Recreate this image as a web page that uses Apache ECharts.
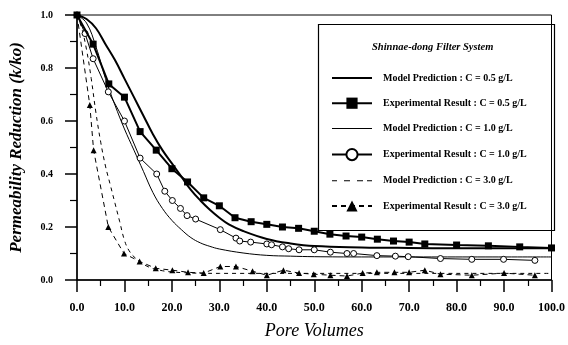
<!DOCTYPE html>
<html><head><meta charset="utf-8">
<script src="https://cdn.jsdelivr.net/npm/echarts@6/dist/echarts.min.js"></script>
<style>html,body{margin:0;padding:0;background:#fff}#c{width:568px;height:345px}</style>
</head><body><div id="c"></div><script>
// ---- data (x = pore volumes, y = k/ko) ----
const model05 = [[0,1.0],[2,0.985],[4,0.95],[6,0.89],[8,0.83],[10,0.76],[12,0.69],[14,0.62],[16,0.55],[18,0.49],[20,0.44],[22,0.39],[24,0.34],[26,0.30],[28,0.265],[30,0.235],[32,0.21],[35,0.185],[40,0.155],[45,0.138],[50,0.128],[60,0.123],[70,0.121],[80,0.12],[100,0.12]];
const exp05 = [[0,1.0],[3.4,0.89],[6.7,0.74],[10,0.69],[13.3,0.56],[16.7,0.49],[20,0.42],[23.3,0.37],[26.7,0.31],[30,0.28],[33.3,0.235],[36.7,0.22],[40,0.21],[43.3,0.20],[46.7,0.195],[50,0.184],[53.3,0.173],[56.7,0.166],[60,0.162],[63.3,0.154],[66.7,0.147],[70,0.143],[73.3,0.136],[80,0.132],[86.7,0.129],[93.3,0.125],[100,0.121]];
const model10 = [[0,1.0],[2,0.97],[4,0.88],[6,0.76],[8,0.66],[10,0.57],[12,0.49],[14,0.41],[16,0.33],[18,0.27],[20,0.225],[22,0.19],[24,0.16],[26,0.14],[28,0.127],[30,0.117],[35,0.102],[40,0.093],[45,0.09],[50,0.088],[60,0.087],[100,0.087]];
const exp10 = [[0,1.0],[1.7,0.93],[3.4,0.835],[6.6,0.71],[10,0.6],[13.3,0.46],[16.8,0.40],[18.5,0.335],[20.1,0.30],[21.8,0.27],[23.2,0.243],[25,0.23],[30.2,0.19],[33.5,0.158],[34.3,0.147],[36.6,0.143],[40,0.136],[41,0.133],[43.3,0.125],[44.6,0.118],[46.8,0.114],[50,0.114],[53.4,0.105],[56.9,0.1],[58.3,0.1],[63.2,0.092],[67.1,0.09],[69.8,0.088],[76.6,0.081],[83.2,0.078],[89.9,0.078],[96.5,0.074]];
const model30 = [[0,1.0],[1,0.95],[2,0.87],[3,0.76],[4,0.63],[5,0.52],[6,0.43],[7,0.36],[8,0.29],[9,0.22],[10,0.15],[11,0.11],[12.5,0.08],[15,0.05],[18,0.035],[22,0.028],[30,0.025],[100,0.025]];
const exp30 = [[0,1.0],[2.7,0.66],[3.5,0.49],[6.6,0.2],[9.9,0.10],[13.2,0.07],[16.6,0.044],[20.1,0.037],[23.4,0.029],[26.7,0.026],[30.2,0.051],[33.5,0.051],[37,0.033],[40,0.018],[43.5,0.037],[46.8,0.026],[49.9,0.022],[53.4,0.018],[56.9,0.015],[60.2,0.026],[63.2,0.029],[66.9,0.029],[70,0.029],[73.3,0.037],[76.6,0.022],[83.2,0.018],[90,0.026],[96.5,0.018]];
const names = ['Model Prediction : C = 0.5 g/L','Experimental Result : C = 0.5 g/L','Model Prediction : C = 1.0 g/L','Experimental Result : C = 1.0 g/L','Model Prediction : C = 3.0 g/L','Experimental Result : C = 3.0 g/L'];
const legendTitle = 'Shinnae-dong Filter System';
const xName = 'Pore Volumes';
const yName = 'Permeability Reduction (k/ko)';

const SERIF = '"Liberation Serif","Times New Roman",serif';
// legend icons for plain model lines (40x14 box, invisible corner slivers fix the box)
const BOX = 'M0,0h0.01v0.01h-0.01z M39.99,13.99h0.01v0.01h-0.01z ';
const iconThick = 'path://' + BOX + 'M0,6h40v2h-40z';
const iconThin = 'path://' + BOX + 'M0,6.5h40v1h-40z';
const iconDash = 'path://' + BOX + 'M0,6.5h5v1h-5z M12,6.5h6v1h-6z M25,6.5h6v1h-6z M35,6.5h5v1h-5z';

const chart = echarts.init(document.getElementById('c'), null, {renderer:'canvas'});
const line = (w, type) => ({color:'#000', width:w, type:type||'solid'});
chart.setOption({
  animation:false,
  backgroundColor:'#fff',
  grid:{left:75, right:6, top:15, bottom:58, show:true, borderColor:'#000', borderWidth:1},
  xAxis:{type:'value', min:0, max:100, interval:10,
    name:xName, nameLocation:'middle', nameGap:42,
    nameTextStyle:{fontFamily:SERIF, fontStyle:'italic', fontSize:18, color:'#000'},
    axisLine:{lineStyle:{color:'#000', width:1.5}},
    axisTick:{show:true, length:12, lineStyle:{color:'#000', width:1.5}},
    minorTick:{show:true, splitNumber:2, length:6, lineStyle:{color:'#000', width:1.2}},
    splitLine:{show:false},
    axisLabel:{margin:22, fontFamily:SERIF, fontWeight:'bold', fontSize:12, color:'#000', formatter:v=>v.toFixed(1)}},
  yAxis:{type:'value', min:0, max:1, interval:0.2,
    name:yName, nameLocation:'middle', nameGap:52,
    nameTextStyle:{fontFamily:SERIF, fontStyle:'italic', fontWeight:'bold', fontSize:17, color:'#000'},
    axisLine:{lineStyle:{color:'#000', width:1.5}},
    axisTick:{show:true, length:12, lineStyle:{color:'#000', width:1.5}},
    minorTick:{show:true, splitNumber:2, length:7, lineStyle:{color:'#000', width:1.2}},
    splitLine:{show:false},
    axisLabel:{margin:24, fontFamily:SERIF, fontWeight:'bold', fontSize:10, color:'#000', formatter:v=>v.toFixed(1)}},
  legend:{orient:'vertical', left:326, top:66, itemWidth:40, itemHeight:14, itemGap:12.6,
    data:[
      {name:names[0], icon:iconThick},
      {name:names[1]},
      {name:names[2], icon:iconThin},
      {name:names[3]},
      {name:names[4], icon:iconDash},
      {name:names[5]}
    ],
    textStyle:{fontFamily:SERIF, fontWeight:'bold', fontSize:10, color:'#000', padding:[0,0,0,6]}},
  graphic:[
    {type:'rect', left:316, top:22, shape:{width:236, height:206}, style:{fill:'none', stroke:'#000', lineWidth:1.2}, z:100},
    {type:'text', left:372, top:42, style:{text:legendTitle, fontFamily:SERIF, fontStyle:'italic', fontWeight:'bold', fontSize:10.5, fill:'#000'}, z:100}
  ],
  series:[
    {name:names[0], type:'line', data:model05, smooth:0.4, showSymbol:false, symbol:'none', lineStyle:line(2), itemStyle:{color:'#000'}, z:3},
    {name:names[1], type:'line', data:exp05, symbol:'rect', symbolSize:7, lineStyle:line(2), itemStyle:{color:'#000'}, z:6},
    {name:names[2], type:'line', data:model10, smooth:0.4, showSymbol:false, symbol:'none', lineStyle:line(1), itemStyle:{color:'#000'}, z:3},
    {name:names[3], type:'line', data:exp10, symbol:'circle', symbolSize:6, lineStyle:line(1), itemStyle:{color:'#fff', borderColor:'#000', borderWidth:1}, z:5},
    {name:names[4], type:'line', data:model30, smooth:0.4, showSymbol:false, symbol:'none', lineStyle:line(1,[4,4]), itemStyle:{color:'#000'}, z:3},
    {name:names[5], type:'line', data:exp30, symbol:'triangle', symbolSize:6, lineStyle:line(1,[5,4]), itemStyle:{color:'#000'}, z:4}
  ]
});
</script></body></html>
